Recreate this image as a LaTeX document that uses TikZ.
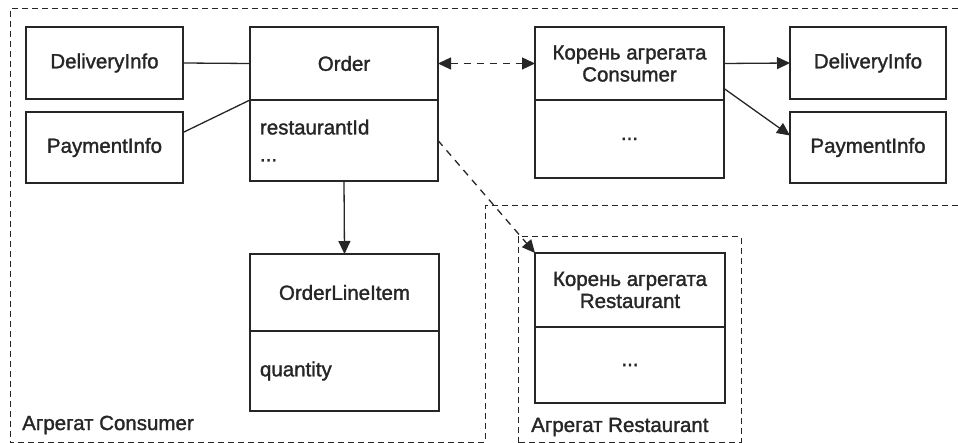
\documentclass[tikz,border=0pt]{standalone}
\usepackage{fontspec}
\setmainfont{Liberation Sans}[FakeBold=1.5]
\usetikzlibrary{arrows.meta}
\definecolor{ink}{HTML}{262626}
\tikzset{
  box/.style={draw=ink, line width=1.3pt, inner sep=0pt, outer sep=0pt, text=ink,
    font=\fontsize{20.5}{22}\selectfont, align=center},
  bodybox/.style={box, align=left, font=\fontsize{20.5}{27}\selectfont},
  aggr/.style={draw=ink, line width=1pt, dash pattern=on 6pt off 4pt},
  link/.style={draw=ink, line width=1.3pt},
  tip/.style={-{Triangle[length=13pt,width=12pt]}},
  dlink/.style={draw=ink, line width=1.3pt, dash pattern=on 7pt off 6pt},
  lbl/.style={text=ink, font=\fontsize{20.5}{22}\selectfont, inner sep=0pt, anchor=west}
}
\begin{document}
\begin{tikzpicture}[x=1pt,y=-1pt]
\useasboundingbox (0,0) rectangle (958,443);
% aggregate borders
\draw[aggr] (958,9) -- (10,9) -- (10,442.6) -- (485,442.6) -- (485,206) -- (958,206);
\draw[aggr] (518,442.6) -- (518,237) -- (741,237) -- (741,442.6) -- cycle;
% left aggregate
\node[box, minimum width=157pt, minimum height=72pt] (dl) at (104.5,63) {DeliveryInfo};
\node[box, minimum width=157pt, minimum height=71pt] (pl) at (104.5,147.5) {PaymentInfo};
\node[box, minimum width=188pt, minimum height=73pt] (order) at (344,63.5) {Order};
\node[bodybox, minimum width=188pt, minimum height=81pt, text width=168pt] (orderb) at (344,140.5) {restaurantId\\...};
\node[box, minimum width=189pt, minimum height=77pt] (oli) at (344.5,292.5) {OrderLineItem};
\node[bodybox, minimum width=189pt, minimum height=80pt, text width=169pt] (olib) at (344.5,371) {quantity};
\node[lbl] (lcons) at (22,425) {Агрегат Consumer};
% consumer aggregate
\node[box, minimum width=189pt, minimum height=73pt] (cons) at (629.5,63.5) {Корень агрегата\\Consumer};
\node[box, minimum width=189pt, minimum height=78pt] (consb) at (629.5,139) {...};
\node[box, minimum width=156pt, minimum height=72pt] (dr) at (868,63) {DeliveryInfo};
\node[box, minimum width=156pt, minimum height=71pt] (pr) at (868,147.5) {PaymentInfo};
% restaurant aggregate
\node[box, minimum width=190pt, minimum height=74pt] (rest) at (630,290) {Корень агрегата\\Restaurant};
\node[box, minimum width=190pt, minimum height=76pt] (restb) at (630,365) {...};
\node[lbl] (lrest) at (531,427) {Агрегат Restaurant};
% connectors
\draw[link] (dl.east) -- (order.west);
\draw[link] ([yshift=15pt]pl.east) -- (order.south west);
\draw[link, tip] (orderb.south) -- (oli.north);
\draw[dlink, {Triangle[length=13pt,width=12pt]}-{Triangle[length=13pt,width=12pt]}] (order.east) -- (cons.west);
\draw[dlink, tip] (orderb.east) -- (rest.north west);
\draw[link, tip] (cons.east) -- (dr.west);
\draw[link, tip] ([yshift=-25pt]cons.east) -- ([yshift=12pt]pr.west);
\end{tikzpicture}
\end{document}
